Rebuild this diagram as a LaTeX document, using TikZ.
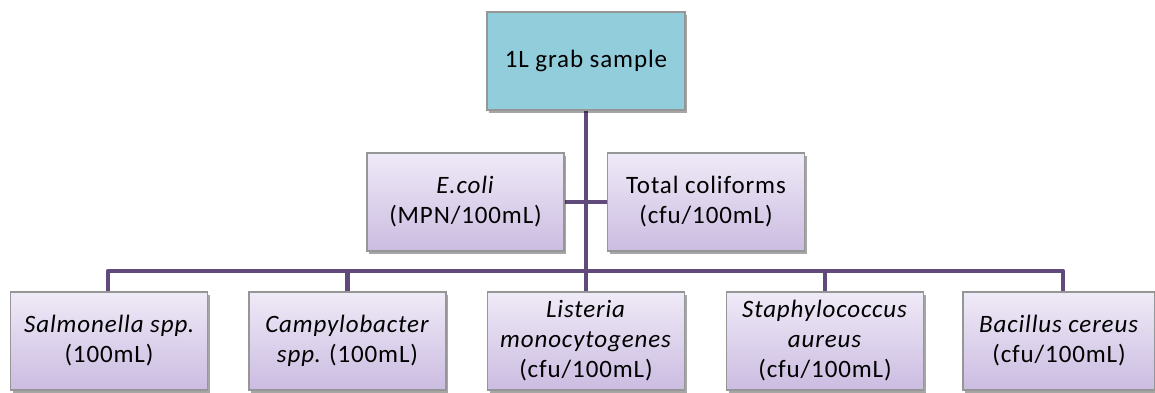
\documentclass[tikz,border=0pt]{standalone}
\usepackage{fontspec}
\setmainfont[LetterSpace=3.5]{Carlito}
\usetikzlibrary{shadows,backgrounds}
\definecolor{topfill}{HTML}{92CDDC}
\definecolor{boxline}{HTML}{969696}
\definecolor{lavtop}{HTML}{EFEAF7}
\definecolor{lavbot}{HTML}{CBBCE1}
\definecolor{conn}{HTML}{604A7B}
\tikzset{
  basebox/.style={draw=boxline, line width=1.2pt, align=center, inner sep=2pt,
    font=\fontsize{25}{30}\selectfont,
    drop shadow={shadow xshift=2pt, shadow yshift=-3pt, opacity=0.35, fill=black}},
  topbox/.style={basebox, fill=topfill, minimum width=198pt, minimum height=98pt},
  lavbox/.style={basebox, top color=lavtop, bottom color=lavbot, minimum width=197pt, minimum height=98pt},
  conline/.style={draw=conn, line width=4.8pt, line join=round}
}
\begin{document}
\begin{tikzpicture}[x=1pt,y=-1pt]
\useasboundingbox (0,0) rectangle (1155,392);
\coordinate (bl) at (108,271);
\coordinate (br) at (1063,271);
\node[topbox] (top) at (586,61) {1L grab sample};
\node[lavbox] (ecoli) at (465.5,202) {\textit{E.coli}\\(MPN/100mL)};
\node[lavbox] (tc) at (706,202) {Total coliforms\\(cfu/100mL)};
\node[lavbox] (sal) at (109,341) {\textit{Salmonella spp}.\\(100mL)};
\node[lavbox] (cam) at (347.5,341) {\textit{Campylobacter}\\\textit{spp}. (100mL)};
\node[lavbox] (lis) at (586,341) {\textit{Listeria}\\\textit{monocytogenes}\\(cfu/100mL)};
\node[lavbox] (sta) at (825,341) {\textit{Staphylococcus}\\\textit{aureus}\\(cfu/100mL)};
\node[lavbox, minimum width=192pt] (bac) at (1059,341) {\textit{Bacillus cereus}\\(cfu/100mL)};
\begin{scope}[on background layer]
\draw[conline] (top.south) -- (lis.north);
\draw[conline] (ecoli.east) -- (tc.west);
\draw[conline] (sal.north -| bl) -- (bl) -- (br) -- (bac.north -| br);
\draw[conline] (cam.north) -- (cam.north |- bl);
\draw[conline] (sta.north) -- (sta.north |- bl);
\end{scope}
\end{tikzpicture}
\end{document}
